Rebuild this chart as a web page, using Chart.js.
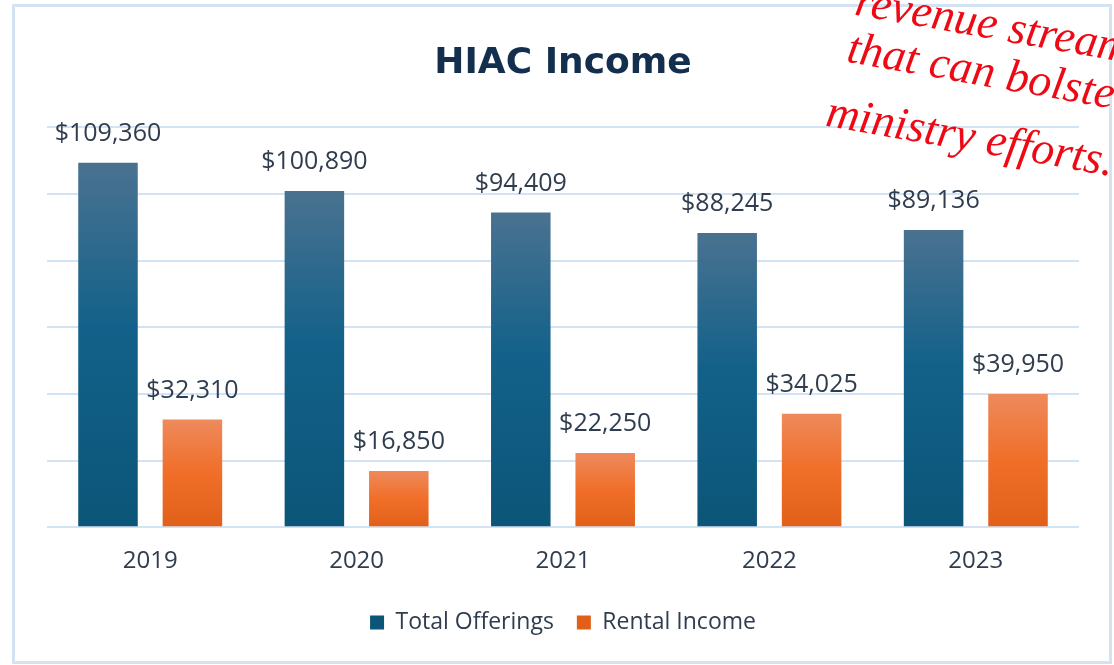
<!DOCTYPE html>
<html>
<head>
<meta charset="utf-8">
<script src="https://cdn.jsdelivr.net/npm/chart.js@4/dist/chart.umd.min.js"></script>
<style>
  html, body { margin: 0; padding: 0; background: #fff; overflow: hidden; }
  #wrap { position: relative; width: 1114px; height: 665px; }
  #frame { position: absolute; left: 12px; top: 4px; width: 1100px; height: 660px; box-sizing: border-box; border: 3px solid #d3e3f4; pointer-events: none; }
  .note { position: absolute; color: #ee0a14; font-family: "Liberation Serif", serif; font-style: italic; font-size: 46px; line-height: 1; white-space: nowrap; transform: rotate(10deg); transform-origin: 0 0; }
</style>
</head>
<body>
<div id="wrap">
  <canvas id="incomeChart" width="1114" height="665"></canvas>
  <div id="frame"></div>
  <div class="note" style="left:860px; top:-23px;">revenue streams</div>
  <div class="note" style="left:852px; top:24px;">that can bolster</div>
  <div class="note" style="left:831px; top:88px;">ministry efforts.</div>
</div>
<script>
const years = ['2019', '2020', '2021', '2022', '2023'];
const totalOfferings = [109360, 100890, 94409, 88245, 89136];
const rentalIncome = [32310, 16850, 22250, 34025, 39950];
const yTicks = { min: 0, max: 120000, step: 20000 };

const TEXT = '#2f3d4f';

function barFill(stops, fallback) {
  return (context) => {
    const chart = context.chart;
    if (!chart.chartArea || context.type !== 'data') return fallback;
    const y = chart.scales.y;
    const grad = chart.ctx.createLinearGradient(0, y.getPixelForValue(context.raw), 0, y.getPixelForValue(0));
    stops.forEach(([pos, color]) => grad.addColorStop(pos, color));
    return grad;
  };
}

const valueLabels = {
  id: 'valueLabels',
  afterDatasetsDraw(chart) {
    const { ctx } = chart;
    ctx.save();
    ctx.font = '25px "Open Sans"';
    ctx.fillStyle = TEXT;
    ctx.textAlign = 'center';
    ctx.textBaseline = 'middle';
    chart.data.datasets.forEach((ds, i) => {
      chart.getDatasetMeta(i).data.forEach((bar, j) => {
        ctx.fillText('$' + ds.data[j].toLocaleString('en-US'), bar.x, bar.y - 29);
      });
    });
    ctx.restore();
  }
};

new Chart(document.getElementById('incomeChart'), {
  type: 'bar',
  data: {
    labels: years,
    datasets: [
      {
        label: 'Total Offerings',
        data: totalOfferings,
        backgroundColor: barFill([[0, '#4a7290'], [0.45, '#13618a'], [1, '#0b5578']], '#14608a')
      },
      {
        label: 'Rental Income',
        data: rentalIncome,
        backgroundColor: barFill([[0, '#ee8a5c'], [0.5, '#f06e28'], [1, '#e0601a']], '#ef6c28')
      }
    ]
  },
  options: {
    responsive: false,
    animation: false,
    categoryPercentage: 0.818,
    barPercentage: 0.705,
    layout: { padding: { top: 10, left: 47, right: 35, bottom: 21 } },
    plugins: {
      title: {
        display: true,
        text: 'HIAC Income',
        color: '#142f4e',
        font: { family: '"DejaVu Sans"', size: 36, weight: 'bold' },
        padding: { top: 32, bottom: 42 }
      },
      legend: {
        position: 'bottom',
        labels: {
          color: TEXT,
          font: { family: '"Open Sans"', size: 23 },
          boxWidth: 14,
          boxHeight: 14,
          padding: 23
        }
      },
      tooltip: { enabled: false }
    },
    scales: {
      x: {
        grid: { display: false },
        border: { display: false },
        ticks: { color: TEXT, font: { family: '"Open Sans"', size: 24 }, padding: 12 }
      },
      y: {
        min: yTicks.min,
        max: yTicks.max,
        ticks: { display: false, stepSize: yTicks.step },
        grid: { color: '#d2e3f3', lineWidth: 2, drawTicks: false },
        border: { display: false }
      }
    }
  },
  plugins: [valueLabels]
});
</script>
</body>
</html>
